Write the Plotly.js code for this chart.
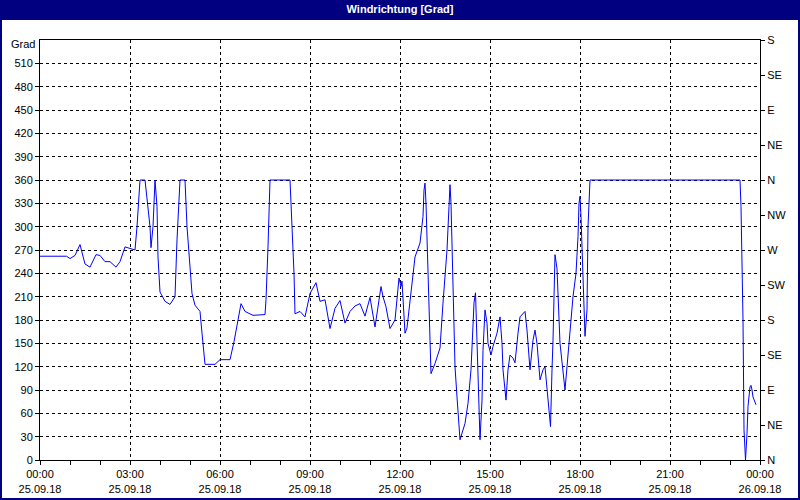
<!DOCTYPE html>
<html>
<head>
<meta charset="utf-8">
<script src="https://cdn.plot.ly/plotly-3.0.1.min.js"></script>
<style>
html,body{margin:0;padding:0;background:#fff;}
#chart{width:800px;height:500px;}
</style>
</head>
<body>
<div id="chart"></div>
<script>
// Data: time of day (25.09.18) and wind direction in degrees
const day = "2018-09-25";
const times = [
"00:00","00:53","01:00","01:10","01:20","01:30","01:40","01:52","02:00","02:10",
"02:20","02:32","02:40","02:50","03:00","03:10","03:14","03:20","03:30","03:34",
"03:40","03:42","03:46","03:50","03:54","03:56","04:00","04:10","04:20","04:30",
"04:34","04:40","04:50","04:54","05:04","05:10","05:20","05:24","05:30","05:50",
"06:00","06:20","06:28","06:36","06:42","06:50","07:06","07:30","07:32","07:36",
"07:40","08:20","08:24","08:28","08:30","08:40","08:50","09:00","09:12","09:20",
"09:30","09:34","09:40","09:50","10:00","10:10","10:20","10:30","10:40","10:50",
"11:00","11:10","11:22","11:26","11:32","11:40","11:50","11:58","12:02","12:04",
"12:10","12:14","12:24","12:30","12:40","12:46","12:48","12:50","12:52","12:56",
"13:00","13:02","13:10","13:20","13:26","13:34","13:38","13:40","13:42","13:46",
"13:50","13:54","14:00","14:10","14:16","14:22","14:26","14:28","14:31","14:34",
"14:37","14:40","14:44","14:46","14:50","14:54","14:56","15:02","15:06","15:14",
"15:20","15:24","15:26","15:32","15:36","15:40","15:46","15:50","15:56","16:00",
"16:10","16:14","16:20","16:26","16:30","16:34","16:40","16:46","16:50","16:56",
"16:58","17:01","17:04","17:06","17:10","17:14","17:20","17:26","17:30","17:34",
"17:40","17:46","17:52","17:56","17:58","18:00","18:02","18:06","18:08","18:10",
"18:14","18:16","18:20","23:20","23:22","23:24","23:26","23:28","23:31","23:34",
"23:36","23:40","23:42","23:44","23:46","23:52"
];
const degrees = [
262,262,259,263,277,252,248,264,263,255,
255,248,255,274,272,270,300,360,360,334,
300,273,300,360,326,261,216,204,200,210,
283,360,360,300,214,199,191,163,123,123,
129,129,152,180,201,191,186,187,206,274,
360,360,309,240,188,191,184,214,228,204,
206,190,169,195,205,176,191,198,201,185,
209,171,223,210,197,169,180,234,223,230,
163,170,223,261,279,313,347,356,330,236,
137,111,124,144,202,270,326,354,330,236,
120,81,26,47,73,116,180,202,215,158,
77,26,77,141,193,176,150,135,146,163,
184,150,116,77,116,135,131,125,163,184,
191,167,116,154,167,150,103,116,120,81,
64,43,116,154,264,246,150,116,90,120,
171,210,240,287,330,339,313,244,184,159,
193,300,360,360,326,253,180,39,0,34,
69,94,96,90,81,71
];

// Axis labels
const leftTickVals = [0,30,60,90,120,150,180,210,240,270,300,330,360,390,420,450,480,510];
const leftUnit = "Grad";
const rightTickVals = [0,45,90,135,180,225,270,315,360,405,450,495,540];
const rightTickText = ["N","NE","E","SE","S","SW","W","NW","N","NE","E","SE","S"];
const chartTitle = "Windrichtung [Grad]";

const xs = times.map(t => day + " " + t);

const font = {family: "Liberation Sans, Arial, sans-serif", size: 11, color: "#000"};
const navy = "#000080";

const traces = [
  {x: xs, y: degrees, type: "scatter", mode: "lines",
   line: {color: "#0000FF", width: 1}, hoverinfo: "skip", showlegend: false},
  {x: [], y: [], type: "scatter", mode: "lines", yaxis: "y2", showlegend: false}
];

const layout = {
  width: 800, height: 500,
  margin: {l: 40, r: 40, t: 40, b: 40, pad: 0},
  paper_bgcolor: "#ffffff",
  plot_bgcolor: "#ffffff",
  font: font,
  showlegend: false,
  title: {text: "<b>" + chartTitle + "</b>", font: {family: "Liberation Sans, Arial, sans-serif", size: 11, color: "#ffffff"},
          x: 0.5, xanchor: "center", y: 1 - 9/500, yanchor: "middle", yref: "container"},
  xaxis: {
    type: "date",
    range: ["2018-09-25 00:00", "2018-09-26 00:00"],
    tick0: "2018-09-25 00:00", dtick: 3 * 3600000,
    tickformat: "%H:%M<br>%d.%m.%y",
    ticks: "outside", ticklen: 4, tickcolor: "#000", tickwidth: 1,
    showgrid: true, gridcolor: "#000", gridwidth: 1, griddash: "3px,3px",
    showline: true, linecolor: "#000", linewidth: 1, mirror: true,
    zeroline: false, fixedrange: true,
    tickfont: font,
    minor: {dtick: 3600000, ticks: "outside", ticklen: 4, tickcolor: "#000", showgrid: false}
  },
  yaxis: {
    range: [0, 540],
    tickmode: "array", tickvals: leftTickVals,
    ticks: "outside", ticklen: 4, tickcolor: "#000",
    showgrid: true, gridcolor: "#000", gridwidth: 1, griddash: "3px,3px",
    showline: true, linecolor: "#000", linewidth: 1,
    zeroline: false, fixedrange: true, tickfont: font
  },
  yaxis2: {
    range: [0, 540], overlaying: "y", side: "right",
    tickmode: "array", tickvals: rightTickVals, ticktext: rightTickText,
    ticks: "outside", ticklen: 4, tickcolor: "#000",
    showgrid: false, showline: true, linecolor: "#000", linewidth: 1,
    zeroline: false, fixedrange: true, tickfont: font
  },
  annotations: [
    {text: leftUnit, xref: "paper", yref: "paper", x: 0, y: 1,
     xanchor: "right", yanchor: "middle", xshift: -3, yshift: -4,
     showarrow: false, font: font}
  ],
  shapes: [
    {type: "rect", xref: "paper", yref: "paper",
     x0: -40/720, x1: 760/720, y0: 440/420, y1: 460/420,
     fillcolor: navy, line: {width: 0}, layer: "below"},
    {type: "rect", xref: "paper", yref: "paper",
     x0: -39/720, x1: 759/720, y0: -39/420, y1: 460/420,
     fillcolor: "rgba(0,0,0,0)", line: {color: navy, width: 2}, layer: "below"}
  ]
};

Plotly.newPlot("chart", traces, layout, {displayModeBar: false, staticPlot: true});
</script>
</body>
</html>
